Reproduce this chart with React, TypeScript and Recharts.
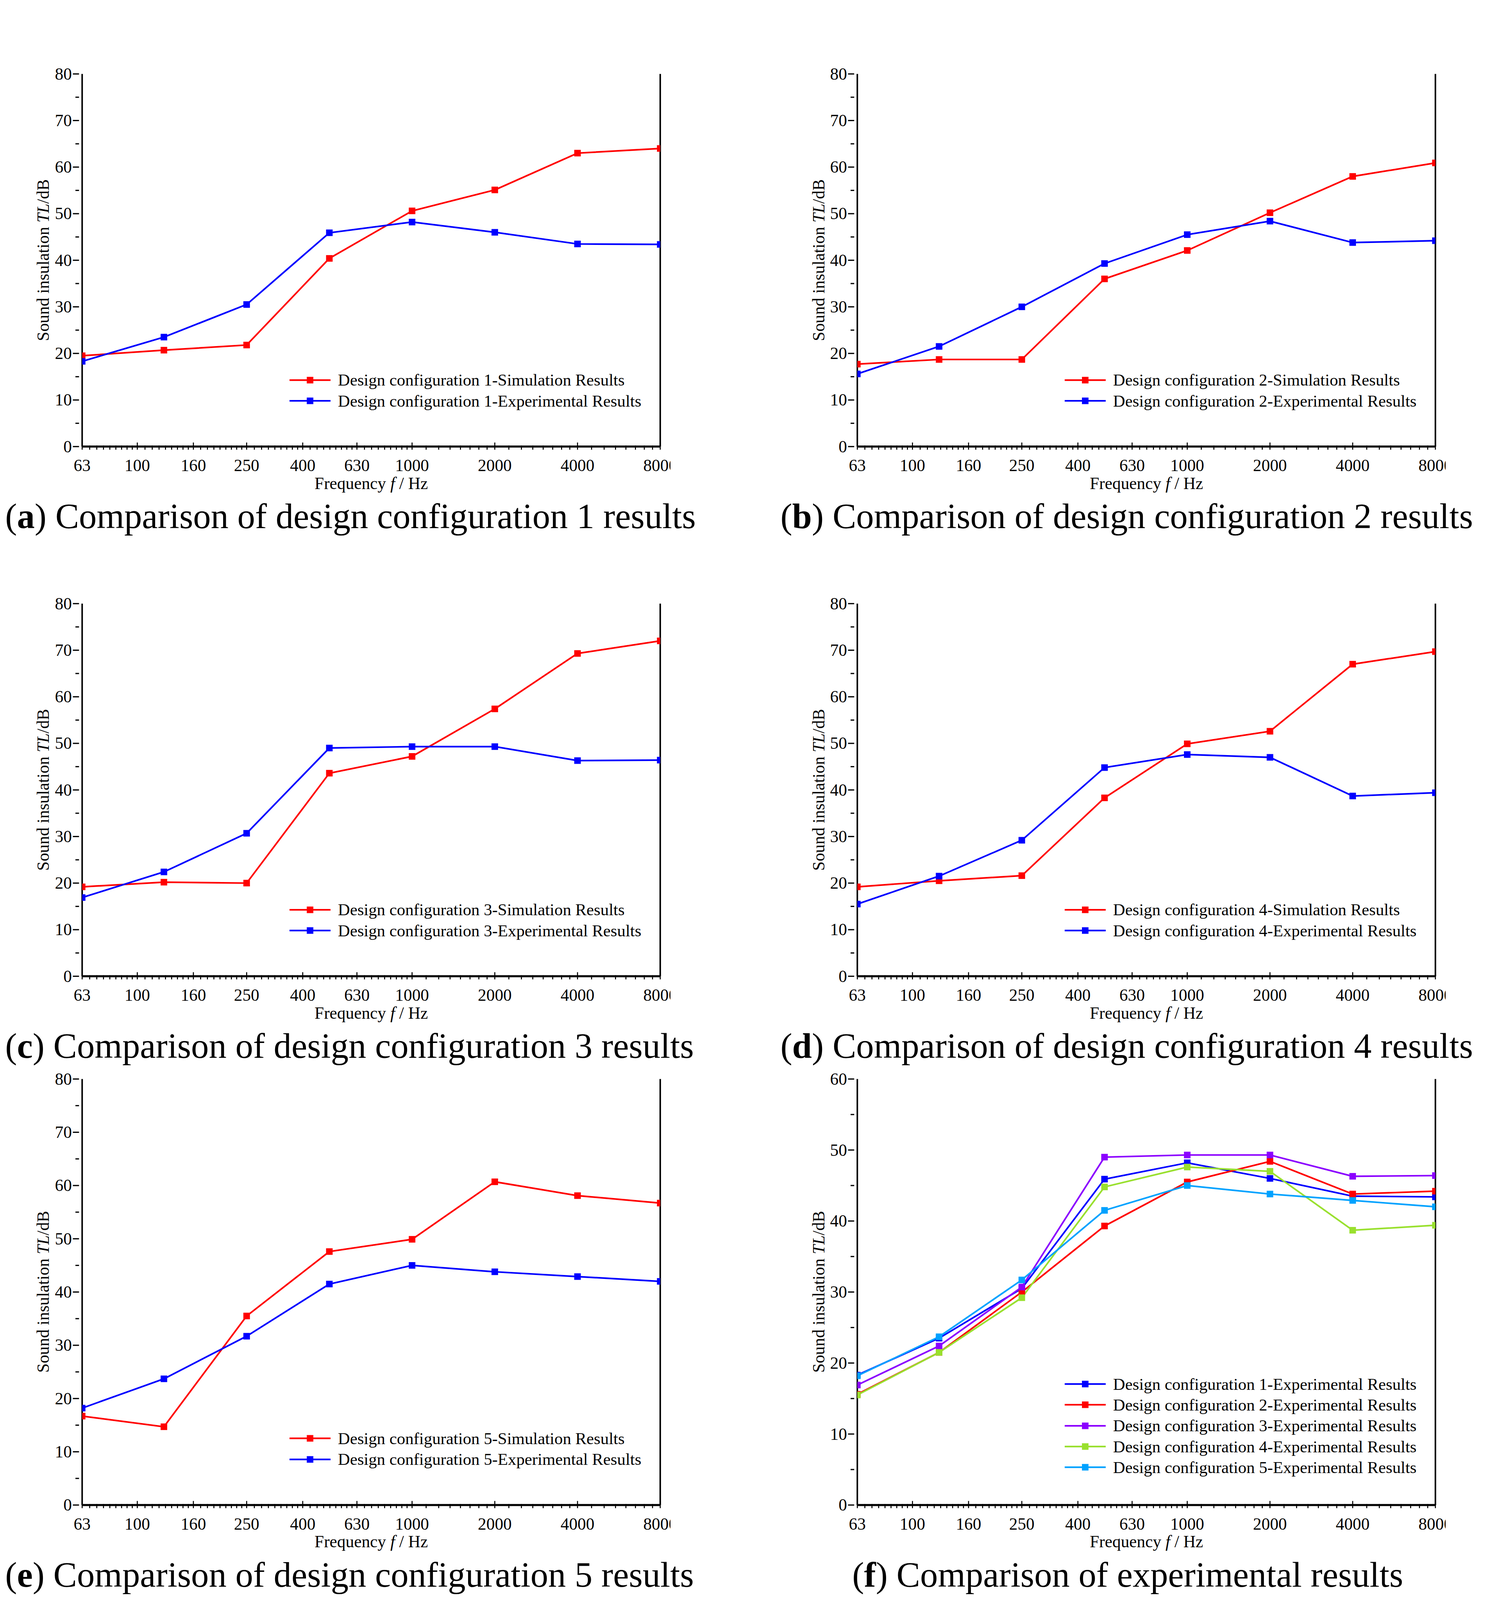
import React from 'react';
import { LineChart, Line, XAxis, YAxis } from 'recharts';

const S = 2.628;
const FONT = '"Liberation Serif", "Times New Roman", serif';

const freqs = [63, 125, 250, 500, 1000, 2000, 4000, 8000];
const xTicks = [63, 100, 160, 250, 400, 630, 1000, 2000, 4000, 8000];

const sim1 = [19.5, 20.7, 21.8, 40.4, 50.6, 55.1, 63.0, 64.0];
const exp1 = [18.3, 23.5, 30.5, 45.9, 48.2, 46.0, 43.5, 43.4];
const sim2 = [17.7, 18.7, 18.7, 36.0, 42.1, 50.2, 58.0, 60.9];
const exp2 = [15.6, 21.5, 30.0, 39.3, 45.5, 48.4, 43.8, 44.2];
const sim3 = [19.2, 20.2, 20.0, 43.6, 47.2, 57.4, 69.3, 72.0];
const exp3 = [16.9, 22.4, 30.7, 49.0, 49.3, 49.3, 46.3, 46.4];
const sim4 = [19.2, 20.5, 21.6, 38.3, 49.9, 52.6, 67.0, 69.7];
const exp4 = [15.5, 21.5, 29.2, 44.8, 47.6, 47.0, 38.7, 39.4];
const sim5 = [16.7, 14.7, 35.5, 47.6, 49.9, 60.7, 58.1, 56.7];
const exp5 = [18.2, 23.7, 31.7, 41.5, 45.0, 43.8, 42.9, 42.0];

// minor ticks: subdivisions between labelled ticks
const minorTicks: number[] = [];
for (let i = 0; i < xTicks.length - 1; i++) {
  const a = xTicks[i], b = xTicks[i + 1];
  const n = b <= 1000 ? 9 : 8;
  for (let k = 1; k < n; k++) minorTicks.push(a + ((b - a) * k) / n);
}
const allTicks = [...xTicks, ...minorTicks].sort((p, q) => p - q);

type Series = { name: string; color: string; values: number[] };

const px = (v: number) => v * S;

const XTick = (props: any) => {
  const { x, y, payload } = props;
  const major = xTicks.includes(payload.value);
  const len = major ? px(7) : px(4);
  return (
    <g>
      <line x1={x} x2={x} y1={y} y2={y - len} stroke="#000" strokeWidth={px(1)} />
      {major && (
        <text x={x} y={y + px(21)} textAnchor="middle" fontFamily={FONT} fontSize={px(16.5)} fill="#000">
          {payload.value}
        </text>
      )}
    </g>
  );
};

const YTick = (props: any) => {
  const { x, y, payload } = props;
  const major = payload.value % 10 === 0;
  const len = major ? px(6) : px(3.5);
  return (
    <g>
      <line x1={x} x2={x - len} y1={y} y2={y} stroke="#000" strokeWidth={px(1.2)} />
      {major && (
        <text x={x - px(7)} y={y + px(5.5)} textAnchor="end" fontFamily={FONT} fontSize={px(16.5)} fill="#000">
          {payload.value}
        </text>
      )}
    </g>
  );
};

const Square = (color: string) => (p: any) => (
  <rect key={`${p.index}-${color}`} x={p.cx - px(3.2)} y={p.cy - px(3.2)} width={px(6.4)} height={px(6.4)} fill={color} />
);

function Panel({ left, top, plotH, yMax, series, legendTop, caption, letter }: {
  left: number; top: number; plotH: number; yMax: number; series: Series[]; legendTop: number; caption: string; letter: string;
}) {
  const plotW = 563;
  const mL = 45, mT = 10, mR = 10, mB = 48;
  const data = freqs.map((f, i) => {
    const row: any = { f };
    series.forEach((s, j) => (row['s' + j] = s.values[i]));
    return row;
  });
  const yTicks: number[] = [];
  for (let v = 0; v <= yMax; v += 5) yTicks.push(v);
  // body margin of 8px is ~3 units
  return (
    <div style={{ position: 'absolute', left: px(left - mL - 3), top: px(top - mT - 3) }}>
      <LineChart width={px(plotW + mL + mR)} height={px(plotH + mT + mB)} data={data}
        margin={{ top: px(mT), right: 0, left: 0, bottom: 0 }}>
        <XAxis dataKey="f" type="number" scale="log" domain={[63, 8000]} ticks={allTicks} interval={0}
          allowDataOverflow tick={<XTick />} tickLine={false} height={px(mB)}
          axisLine={{ stroke: '#000', strokeWidth: px(2) }} />
        <YAxis yAxisId="l" domain={[0, yMax]} ticks={yTicks} interval={0} tick={<YTick />} tickLine={false}
          width={px(mL)} axisLine={{ stroke: '#000', strokeWidth: px(1.5) }} />
        <YAxis yAxisId="r" orientation="right" domain={[0, yMax]} tick={false} tickLine={false} width={px(mR)}
          axisLine={{ stroke: '#000', strokeWidth: px(1.5) }} />
        {series.map((s, j) => (
          <Line key={j} yAxisId="l" dataKey={'s' + j} stroke={s.color} strokeWidth={px(1.6)}
            dot={Square(s.color)} activeDot={false} isAnimationActive={false} />
        ))}
      </LineChart>
      <div style={{ position: 'absolute', left: px(mL - 38), top: px(mT + plotH / 2), transform: 'translate(-50%,-50%) rotate(-90deg)',
        fontFamily: FONT, fontSize: px(16.5), whiteSpace: 'nowrap' }}>
        Sound insulation <i>TL</i>/dB
      </div>
      <div style={{ position: 'absolute', left: px(mL + plotW / 2), top: px(mT + plotH + 26), transform: 'translateX(-50%)',
        fontFamily: FONT, fontSize: px(16.5), whiteSpace: 'nowrap' }}>
        Frequency <i>f</i> / Hz
      </div>
      <div style={{ position: 'absolute', left: px(mL + 202), top: px(mT + legendTop) }}>
        {series.map((s, j) => (
          <div key={j} style={{ display: 'flex', alignItems: 'center', height: px(20.3), fontFamily: FONT, fontSize: px(16.3), whiteSpace: 'nowrap' }}>
            <svg width={px(40)} height={px(10)} style={{ marginRight: px(7) }}>
              <line x1={0} x2={px(40)} y1={px(5)} y2={px(5)} stroke={s.color} strokeWidth={px(1.6)} />
              <rect x={px(16.8)} y={px(1.8)} width={px(6.4)} height={px(6.4)} fill={s.color} />
            </svg>
            {s.name}
          </div>
        ))}
      </div>
      <div style={{ position: 'absolute', left: px(mL - 75 + (letter === 'f' ? 70 : 0)), top: px(mT + plotH + 48),
        fontFamily: FONT, fontSize: px(34.5), whiteSpace: 'nowrap' }}>
        (<b>{letter}</b>) {caption}
      </div>
    </div>
  );
}

const red = '#ff0000', blue = '#0000ff';
const sim = (n: number, v: number[]) => ({ name: `Design configuration ${n}-Simulation Results`, color: red, values: v });
const exp = (n: number, v: number[], c = blue) => ({ name: `Design configuration ${n}-Experimental Results`, color: c, values: v });

export default function App() {
  return (
    <div style={{ position: 'relative', width: 3795, height: 4100, background: '#fff' }}>
      <Panel left={80} top={72} plotH={363} yMax={80} legendTop={288} letter="a"
        caption="Comparison of design configuration 1 results" series={[sim(1, sim1), exp(1, exp1)]} />
      <Panel left={835} top={72} plotH={363} yMax={80} legendTop={288} letter="b"
        caption="Comparison of design configuration 2 results" series={[sim(2, sim2), exp(2, exp2)]} />
      <Panel left={80} top={588} plotH={363} yMax={80} legendTop={288} letter="c"
        caption="Comparison of design configuration 3 results" series={[sim(3, sim3), exp(3, exp3)]} />
      <Panel left={835} top={588} plotH={363} yMax={80} legendTop={288} letter="d"
        caption="Comparison of design configuration 4 results" series={[sim(4, sim4), exp(4, exp4)]} />
      <Panel left={80} top={1051} plotH={415} yMax={80} legendTop={340} letter="e"
        caption="Comparison of design configuration 5 results" series={[sim(5, sim5), exp(5, exp5)]} />
      <Panel left={835} top={1051} plotH={415} yMax={60} legendTop={287} letter="f"
        caption="Comparison of experimental results"
        series={[exp(1, exp1, '#0000ff'), exp(2, exp2, '#ff0000'), exp(3, exp3, '#8b00ff'), exp(4, exp4, '#99e02e'), exp(5, exp5, '#00a2ff')]} />
    </div>
  );
}
